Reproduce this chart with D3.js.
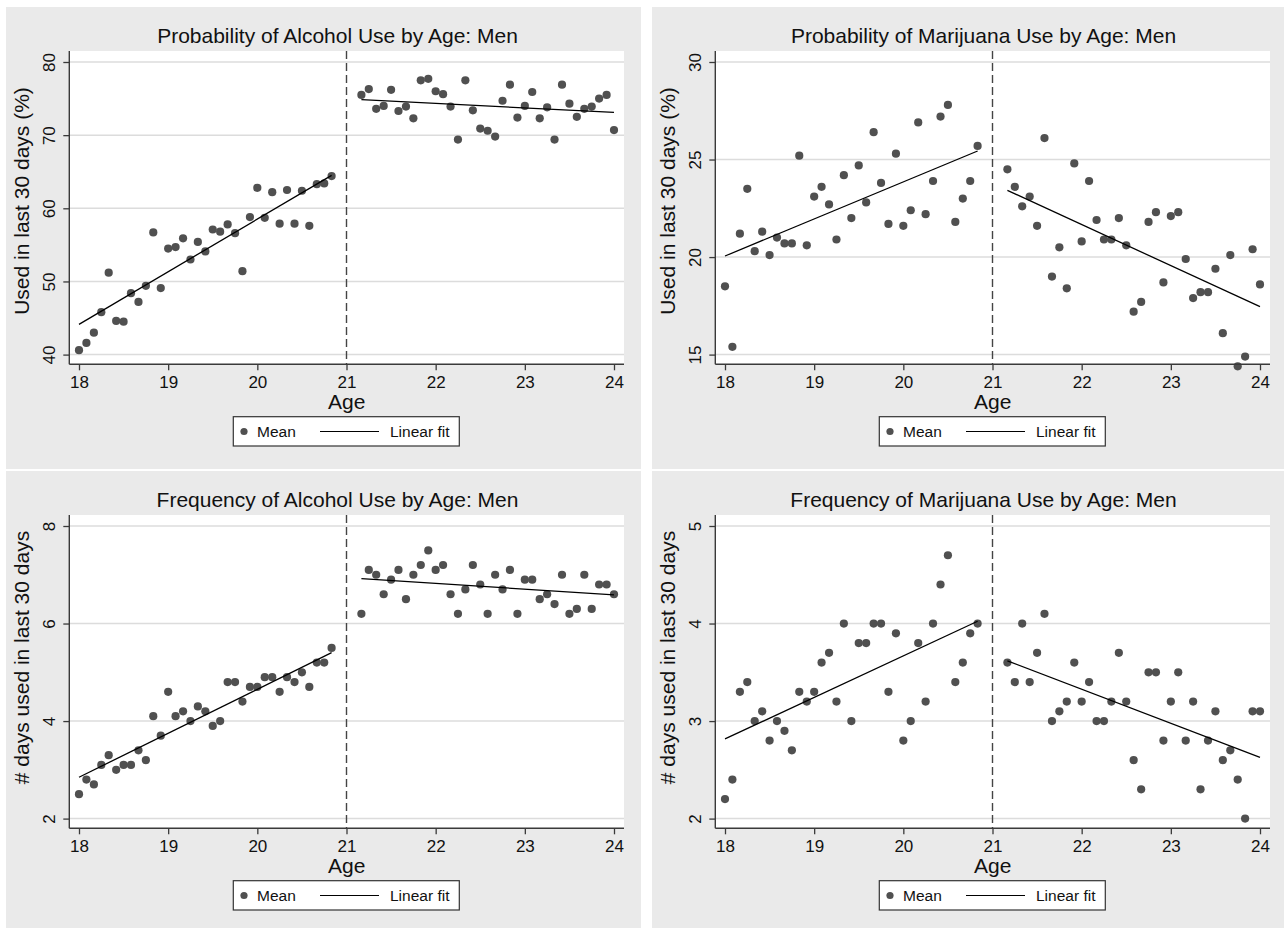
<!DOCTYPE html>
<html>
<head>
<meta charset="utf-8">
<script src="https://cdn.jsdelivr.net/npm/d3@7"></script>
<style>
  body { margin: 0; background: #fff; }
  svg { display: block; font-family: "Liberation Sans", Arial, Helvetica, sans-serif; }
</style>
</head>
<body>
<div id="chart"></div>
<script>
// ages (monthly means), the months just around 21 are left out
var ages = [18.000,18.083,18.167,18.250,18.333,18.417,18.500,18.583,18.667,18.750,18.833,18.917,
  19.000,19.083,19.167,19.250,19.333,19.417,19.500,19.583,19.667,19.750,19.833,19.917,
  20.000,20.083,20.167,20.250,20.333,20.417,20.500,20.583,20.667,20.750,20.833,
  21.167,21.250,21.333,21.417,21.500,21.583,21.667,21.750,21.833,21.917,
  22.000,22.083,22.167,22.250,22.333,22.417,22.500,22.583,22.667,22.750,22.833,22.917,
  23.000,23.083,23.167,23.250,23.333,23.417,23.500,23.583,23.667,23.750,23.833,23.917,24.000]

var alcProb = [40.6,41.6,43.0,45.8,51.2,44.6,44.5,48.4,47.2,49.4,56.7,49.1,
  54.5,54.7,55.9,53.0,55.4,54.1,57.1,56.8,57.8,56.6,51.4,58.8,
  62.8,58.7,62.2,57.9,62.5,57.9,62.4,57.6,63.3,63.4,64.4,
  75.5,76.3,73.6,74.0,76.2,73.3,73.9,72.3,77.5,77.7,
  76.0,75.6,73.9,69.4,77.5,73.4,70.9,70.6,69.8,74.7,76.9,72.4,
  74.0,75.9,72.3,73.8,69.4,76.9,74.3,72.5,73.6,73.9,75.0,75.5,70.7]

var mjProb = [18.5,15.4,21.2,23.5,20.3,21.3,20.1,21.0,20.7,20.7,25.2,20.6,
  23.1,23.6,22.7,20.9,24.2,22.0,24.7,22.8,26.4,23.8,21.7,25.3,
  21.6,22.4,26.9,22.2,23.9,27.2,27.8,21.8,23.0,23.9,25.7,
  24.5,23.6,22.6,23.1,21.6,26.1,19.0,20.5,18.4,24.8,
  20.8,23.9,21.9,20.9,20.9,22.0,20.6,17.2,17.7,21.8,22.3,18.7,
  22.1,22.3,19.9,17.9,18.2,18.2,19.4,16.1,20.1,14.4,14.9,20.4,18.6]

var alcFreq = [2.5,2.8,2.7,3.1,3.3,3.0,3.1,3.1,3.4,3.2,4.1,3.7,
  4.6,4.1,4.2,4.0,4.3,4.2,3.9,4.0,4.8,4.8,4.4,4.7,
  4.7,4.9,4.9,4.6,4.9,4.8,5.0,4.7,5.2,5.2,5.5,
  6.2,7.1,7.0,6.6,6.9,7.1,6.5,7.0,7.2,7.5,
  7.1,7.2,6.6,6.2,6.7,7.2,6.8,6.2,7.0,6.7,7.1,6.2,
  6.9,6.9,6.5,6.6,6.4,7.0,6.2,6.3,7.0,6.3,6.8,6.8,6.6]

var mjFreq = [2.2,2.4,3.3,3.4,3.0,3.1,2.8,3.0,2.9,2.7,3.3,3.2,
  3.3,3.6,3.7,3.2,4.0,3.0,3.8,3.8,4.0,4.0,3.3,3.9,
  2.8,3.0,3.8,3.2,4.0,4.4,4.7,3.4,3.6,3.9,4.0,
  3.6,3.4,4.0,3.4,3.7,4.1,3.0,3.1,3.2,3.6,
  3.2,3.4,3.0,3.0,3.2,3.7,3.2,2.6,2.3,3.5,3.5,2.8,
  3.2,3.5,2.8,3.2,2.3,2.8,3.1,2.6,2.7,2.4,2.0,3.1,3.1]

var xTicks = [18, 19, 20, 21, 22, 23, 24]
var cutoff = 21

var panels = [
  {title: "Probability of Alcohol Use by Age: Men", ylab: "Used in last 30 days (%)", values: alcProb, yTicks: [40, 50, 60, 70, 80], ox: 6, oy: 7, ylabY: 194},
  {title: "Probability of Marijuana Use by Age: Men", ylab: "Used in last 30 days (%)", values: mjProb, yTicks: [15, 20, 25, 30], ox: 652, oy: 7, ylabY: 194},
  {title: "Frequency of Alcohol Use by Age: Men", ylab: "# days used in last 30 days", values: alcFreq, yTicks: [2, 4, 6, 8], ox: 6, oy: 471, ylabY: 186.5},
  {title: "Frequency of Marijuana Use by Age: Men", ylab: "# days used in last 30 days", values: mjFreq, yTicks: [2, 3, 4, 5], ox: 652, oy: 471, ylabY: 186.5}
]

var W = 1284, H = 928
var PW = 635, PH = 462
var plotL = 63.3, plotR = 618, plotT = 44, plotB = 357.3
var bg = "#eaeaea", markCol = "#505050", axisCol = "#3a3a3a", gridCol = "#dcdcdc"

var svg = d3.select("#chart").append("svg").attr("width", W).attr("height", H)
svg.append("rect").attr("width", W).attr("height", H).attr("fill", "#fff")

// least squares fit
function linfit(pts) {
  var mx = d3.mean(pts, function(d) { return d[0] })
  var my = d3.mean(pts, function(d) { return d[1] })
  var sxy = d3.sum(pts, function(d) { return (d[0] - mx) * (d[1] - my) })
  var sxx = d3.sum(pts, function(d) { return (d[0] - mx) * (d[0] - mx) })
  var b = sxy / sxx, a = my - b * mx
  var x0 = d3.min(pts, function(d) { return d[0] }), x1 = d3.max(pts, function(d) { return d[0] })
  return [[x0, a + b * x0], [x1, a + b * x1]]
}

panels.forEach(function(p) {
  var g = svg.append("g").attr("transform", "translate(" + p.ox + "," + p.oy + ")")
  g.append("rect").attr("width", PW).attr("height", PH).attr("fill", bg)

  var x = d3.scaleLinear().domain([18, 24]).range([73, 608])
  var y = d3.scaleLinear().domain([d3.min(p.yTicks), d3.max(p.yTicks)]).range([347.6, 55])

  g.append("rect").attr("x", plotL).attr("y", plotT).attr("width", plotR - plotL).attr("height", plotB - plotT).attr("fill", "#fff")

  g.selectAll(".grid").data(p.yTicks).enter().append("line")
    .attr("x1", plotL).attr("x2", plotR)
    .attr("y1", function(d) { return y(d) }).attr("y2", function(d) { return y(d) })
    .attr("stroke", gridCol).attr("stroke-width", 1.5)

  g.append("line").attr("x1", x(cutoff)).attr("x2", x(cutoff)).attr("y1", plotT).attr("y2", plotB)
    .attr("stroke", "#444").attr("stroke-width", 1.4).attr("stroke-dasharray", "8,4")

  var pts = ages.map(function(a, i) { return [a, p.values[i]] })
  var before = pts.filter(function(d) { return d[0] < cutoff })
  var after = pts.filter(function(d) { return d[0] > cutoff })

  g.selectAll(".pt").data(pts).enter().append("circle")
    .attr("cx", function(d) { return x(d[0]) }).attr("cy", function(d) { return y(d[1]) })
    .attr("r", 4.1).attr("fill", markCol)

  var line = d3.line().x(function(d) { return x(d[0]) }).y(function(d) { return y(d[1]) })
  ;[before, after].forEach(function(seg) {
    g.append("path").attr("d", line(linfit(seg))).attr("fill", "none").attr("stroke", "#000").attr("stroke-width", 1.3)
  })

  // axes
  var ax = g.append("g").attr("transform", "translate(0," + plotB + ")")
    .call(d3.axisBottom(x).tickValues(xTicks).tickSize(6).tickSizeOuter(0).tickFormat(d3.format("d")))
  ax.select(".domain").remove()
  ax.selectAll("line").attr("stroke", axisCol).attr("stroke-width", 1.3)
  ax.selectAll("text").attr("y", 24).attr("dy", 0).attr("fill", "#111").style("font-size", "17px")

  var ay = g.append("g").attr("transform", "translate(" + plotL + ",0)")
    .call(d3.axisLeft(y).tickValues(p.yTicks).tickSize(6).tickSizeOuter(0).tickFormat(d3.format("d")))
  ay.select(".domain").remove()
  ay.selectAll("line").attr("stroke", axisCol).attr("stroke-width", 1.3)
  ay.selectAll("text").attr("transform", "rotate(-90)").attr("x", 0).attr("y", -14).attr("dy", 0)
    .style("text-anchor", "middle").attr("fill", "#111").style("font-size", "17px")

  g.append("line").attr("x1", plotL).attr("x2", plotR).attr("y1", plotB).attr("y2", plotB).attr("stroke", axisCol).attr("stroke-width", 1.4)
  g.append("line").attr("x1", plotL).attr("x2", plotL).attr("y1", plotT).attr("y2", plotB).attr("stroke", axisCol).attr("stroke-width", 1.4)

  // texts
  g.append("text").attr("x", 331.5).attr("y", 35.5).attr("text-anchor", "middle")
    .style("font-size", "21px").attr("fill", "#111").text(p.title)
  g.append("text").attr("x", (plotL + plotR) / 2).attr("y", 402).attr("text-anchor", "middle")
    .style("font-size", "21px").attr("fill", "#111").text("Age")
  g.append("text").attr("transform", "translate(23," + p.ylabY + ") rotate(-90)").attr("text-anchor", "middle")
    .style("font-size", "21px").attr("fill", "#111").text(p.ylab)

  // legend
  var lg = g.append("g")
  lg.append("rect").attr("x", 227.3).attr("y", 409.7).attr("width", 226).attr("height", 29.3)
    .attr("fill", "#fff").attr("stroke", "#333").attr("stroke-width", 1.2)
  lg.append("circle").attr("cx", 238).attr("cy", 424.5).attr("r", 3.6).attr("fill", markCol)
  lg.append("text").attr("x", 251).attr("y", 430.3).style("font-size", "15.5px").attr("fill", "#111").text("Mean")
  lg.append("line").attr("x1", 314).attr("x2", 373).attr("y1", 424.5).attr("y2", 424.5).attr("stroke", "#000").attr("stroke-width", 1.2)
  lg.append("text").attr("x", 384).attr("y", 430.3).style("font-size", "15.5px").attr("fill", "#111").text("Linear fit")
})
</script>
</body>
</html>
